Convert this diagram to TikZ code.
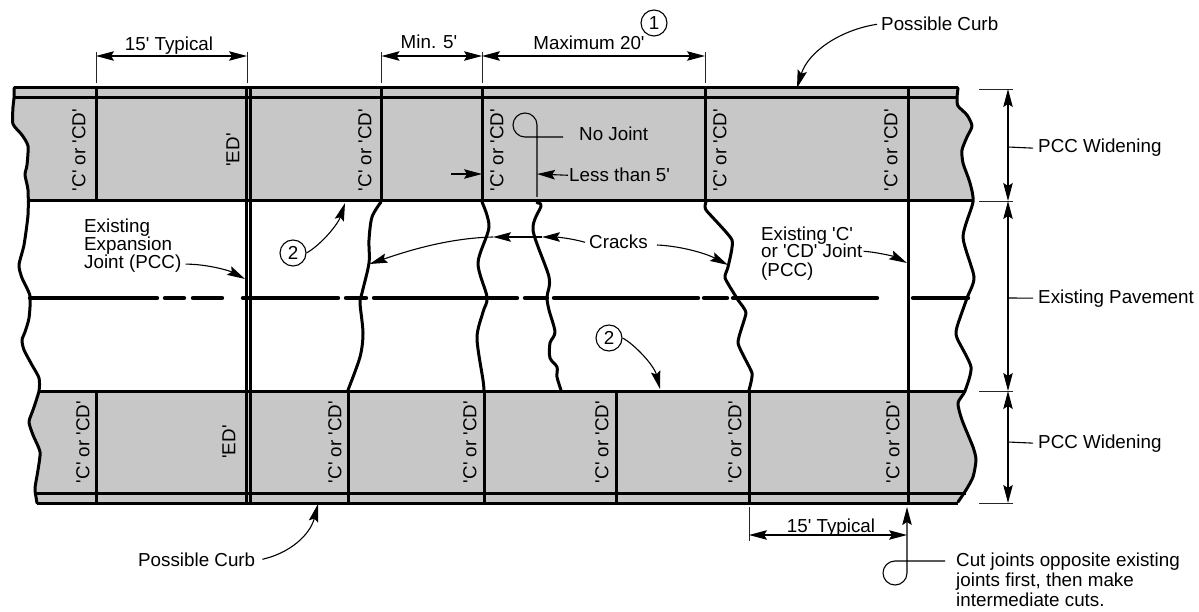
\documentclass[tikz,border=0pt]{standalone}
\usepackage{fontspec}
\setmainfont{Liberation Sans}[Ligatures=TeXOff]
\usetikzlibrary{arrows.meta}
\definecolor{band}{RGB}{199,199,199}
\tikzset{
  x=1pt,y=-1pt,
  txt/.style={inner sep=0pt,font=\fontsize{18.8}{20}\selectfont,text=black},
  lbl/.style={txt,anchor=base west},
  ctr/.style={txt,anchor=base},
  jlabel/.style={txt,rotate=90,anchor=center},
  circ/.style={draw,circle,line width=1.1pt,minimum size=26pt,inner sep=0pt,font=\fontsize{18.8}{20}\selectfont},
  heavy/.style={line width=3pt,line join=round},
  edge/.style={line width=3pt,line join=round,line cap=round},
  thin1/.style={line width=1.1pt},
  tip/.tip={Stealth[length=18pt,width=9.5pt,inset=3pt]},
  ext/.style={line width=0.9pt,black!85},
  dim/.style={line width=1.1pt,{tip}-{tip}},
  lead/.style={line width=1.1pt,-{tip}},
  stub/.style={line width=1.1pt},
  center/.style={line width=4.4pt,line cap=round},
}
\begin{document}
\begin{tikzpicture}
\useasboundingbox (0,0) rectangle (1199,612);
% bands
\fill[band] (14,88) -- (958,88) -- (958,106) -- (967,115) -- (972,126) -- (967,137) -- (962,150) -- (963,163) -- (970,183) -- (973,202) -- (28,202) -- (28,190) -- (25,175) -- (27,165) -- (28,145) -- (22,135) -- (13,125) -- (13,105) -- cycle;
\fill[band] (39,391) -- (965,391) -- (958,403) -- (962,420) -- (973,447) -- (976,460) -- (973,477) -- (966,490) -- (958,503) -- (37,503) -- (36,497) -- (35,488) -- (38,470) -- (40,452) -- (33,435) -- (29,422) -- (33,410) -- cycle;
% centre line
\foreach \a/\b in {30/157,165/184,193/222,243/338,346/366,374/517,525/547,554/698,704/727,733/877,913/968}
  \draw[center] (\a,298) -- (\b,298);
% horizontal lines
\draw[heavy] (14,88) -- (958,88);
\draw[heavy] (14,98) -- (957,98);
\draw[heavy] (28,201) -- (973,201);
\draw[heavy] (39,391) -- (965,391);
\draw[heavy] (37,493) -- (966,493);
\draw[heavy] (37,503) -- (958,503);
% joints upper
\foreach \x in {96,381,482,705}
  \draw[heavy] (\x,88) -- (\x,201);
\draw[heavy] (246,88) -- (246,503);
\draw[heavy] (250.5,88) -- (250.5,503);
\draw[heavy] (908,88) -- (908,503);
% joints lower
\foreach \x in {96.5,348,484,616,749.5}
  \draw[heavy] (\x,391) -- (\x,503);
% pavement edges
\draw[edge] plot[smooth,tension=0.4] coordinates {(14,88) (14,98) (13,107) (13,124) (22,135) (28,146) (27,165) (25,175) (28,190) (28,215) (24,245) (19,265) (22,278) (30,296) (29,318) (25,332) (22,340) (24,350) (32,365) (39,378) (39,391) (33,410) (29,422) (33,435) (40,452) (38,470) (35,488) (36,497) (37,503)};
\draw[edge] plot[smooth,tension=0.4] coordinates {(958,88) (957,98) (958,106) (967,115) (972,126) (967,137) (962,150) (963,163) (970,183) (973,202) (963,237) (974,277) (967,298) (957,327) (957,338) (971,367) (965,391) (958,403) (962,420) (973,447) (976,460) (973,477) (966,490) (958,502)};
% cracks
\draw[edge] plot[smooth,tension=0.5] coordinates {(381,202) (372,217) (369,240) (369,263) (362,293) (360,303) (363,333) (360,357) (348,390)};
\draw[edge] plot[smooth,tension=0.5] coordinates {(482,202) (489,227) (478,263) (487,297) (483,312) (477,338) (483,380) (484,390)};
\draw[edge] plot[smooth,tension=0.5] coordinates {(537,203) (541,206) (533,230) (549,277) (547,297) (549,310) (555,332) (550,343) (550,358) (557,367) (557,377) (561,390)};
\draw[edge] plot[smooth,tension=0.3] coordinates {(706,202) (706,210) (732,240) (728,267) (725,278) (738,300) (746,313) (738,343) (752,373) (749,390)};
% joint labels
\foreach \x/\y in {79/150,365/150,497/150,720/150,891/150,83/442,335/442,470/442,602/442,735/442,893/442}
  \node[jlabel] (cj\x) at (\x,\y) {'C' or 'CD'};
\node[jlabel] (edu) at (233,150) {'ED'};
\node[jlabel] (edl) at (229,442) {'ED'};
% top dimensions
\coordinate (d1) at (96,56); \coordinate (d2) at (247,56); \coordinate (d3) at (381.5,56);
\coordinate (d4) at (482,56); \coordinate (d5) at (705,56);
\foreach \x in {96,247,381.5,482,705} \draw[ext] (\x,52) -- (\x,83);
\draw[dim] (d1) -- (d2);
\draw[dim] (d3) -- (d4);
\draw[dim] (d4) -- (d5);
\node[ctr] (t15a) at (169,51) {15' Typical};
\node[ctr] (tmin) at (429,49) {Min. 5'};
\node[ctr] (tmax) at (589,50) {Maximum 20'};
\node[circ] (n1) at (654,23) {1};
% possible curb top
\node[lbl] (pcu) at (881,31) {Possible Curb};
\coordinate (pcut) at (797,88);
\draw[lead] ([xshift=-4pt]pcu.west) .. controls (840,30) and (808,52) .. (pcut);
% right dimensions
\foreach \y in {89,201,391,503} \draw[ext] (979,\y) -- (1013,\y);
\coordinate (w1) at (1008,89); \coordinate (w2) at (1008,201); \coordinate (w3) at (1008,391); \coordinate (w4) at (1008,503);
\draw[dim] (w1) -- (w2);
\draw[dim] (w2) -- (w3);
\draw[dim] (w3) -- (w4);
\node[lbl] (pw1) at (1038,153) {PCC Widening};
\node[lbl] (ep) at (1038,303) {Existing Pavement};
\node[lbl] (pw2) at (1038,448) {PCC Widening};
\draw[stub] (1008,147) -- ([xshift=-5pt]pw1.west);
\draw[stub] (1008,298) -- ([xshift=-5pt]ep.west);
\draw[stub] (1008,442) -- ([xshift=-5pt]pw2.west);
% no joint
\node[lbl] (nj) at (579,141) {No Joint};
\node[lbl] (lt) at (569,182) {Less than 5'};
\coordinate (njv) at (537,197);
\draw[thin1,line join=round] (563,137) -- (525,137) arc[start angle=270,end angle=0,radius=12pt] -- (njv);
\draw[lead] ([xshift=-1pt]lt.west) -- (537,174);
\coordinate (ltl) at (451,174);
\draw[lead] (ltl) -- (482,174);
% circled 2
\node[circ] (n2a) at (293,253) {2};
\coordinate (n2at) at (345,203);
\draw[lead] (n2a.east) .. controls (322,244) and (338,224) .. (n2at);
\node[circ] (n2b) at (609,338) {2};
\coordinate (n2bt) at (660,389);
\draw[lead] (n2b.east) .. controls (634,344) and (654,365) .. (n2bt);
% cracks labels
\node[lbl] (cr) at (589,249) {Cracks};
\coordinate (cr1) at (542,237); \coordinate (cr2) at (493,237); \coordinate (cr3) at (369.5,264); \coordinate (cr4) at (728,265);
\draw[lead] ([xshift=-4pt]cr.west) ..controls (570,238) and (555,237) .. (cr1);
\draw[lead] (cr1) -- (cr2);
\draw[lead] (cr2) .. controls (450,238) and (410,250) .. (cr3);
\coordinate (crr) at (657,245);
\draw[lead] (crr) .. controls (680,246) and (705,253) .. (cr4);
% existing labels
\node[lbl] (ex1) at (84,233) {Existing};
\node[lbl] (ex2) at (84,251) {Expansion};
\node[lbl] (ex3) at (84,269) {Joint (PCC)};
\coordinate (ex3t) at (245,279);
\draw[lead] ([xshift=4pt]ex3.east) .. controls (205,264) and (228,270) .. (ex3t);
\node[lbl] (ec1) at (761,241) {Existing 'C'};
\node[lbl] (ec2) at (761,258) {or 'CD' Joint};
\node[lbl] (ec3) at (761,277) {(PCC)};
\coordinate (ec2t) at (907,263);
\draw[lead] ([xshift=1pt]ec2.east) .. controls (875,252) and (893,256) .. (ec2t);
% possible curb bottom
\node[lbl] (pcl) at (138,566) {Possible Curb};
\coordinate (pclt) at (318,504);
\draw[lead] ([xshift=7pt]pcl.east) .. controls (290,553) and (310,535) .. (pclt);
% lower dimension
\draw[ext] (749,507) -- (749,541);
\coordinate (b1) at (749,535); \coordinate (b2) at (907,535);
\draw[dim] (b1) -- (b2);
\node[ctr] (t15b) at (831,532) {15' Typical};
% cut joints
\node[lbl] (cj1) at (956,566) {Cut joints opposite existing};
\node[lbl] (cj2) at (956,586) {joints first, then make};
\node[lbl] (cj3) at (956,606) {intermediate cuts.};
\coordinate (cjt) at (907,507);
\draw[line width=1.1pt,line join=round,-{tip}] (945,561) -- (895,561) arc[start angle=90,end angle=270,radius=12pt] arc[start angle=270,end angle=360,radius=12pt] -- (cjt);
\end{tikzpicture}
\end{document}
